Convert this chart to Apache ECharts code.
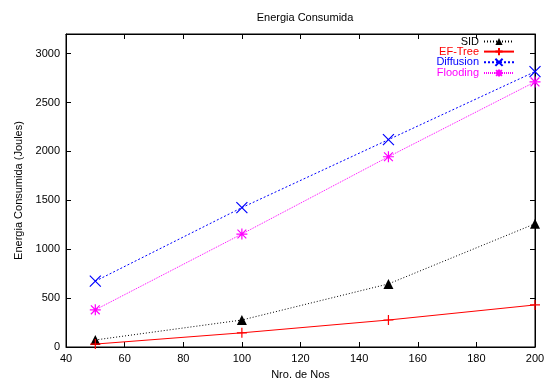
<!DOCTYPE html>
<html>
<head>
<meta charset="utf-8">
<script src="https://cdn.jsdelivr.net/npm/echarts@6/dist/echarts.min.js"></script>
<style>
  html, body { margin: 0; padding: 0; background: #fff; }
  #chart { width: 546px; height: 382px; }
</style>
</head>
<body>
<div id="chart"></div>
<script>
// node counts
var nodes = [50, 100, 150, 200];
// energy (Joules)
var sid = [72, 276, 645, 1260];
var efTree = [30, 145, 276, 430];
var diffusion = [673, 1425, 2120, 2815];
var flooding = [380, 1155, 1945, 2710];

var plusPath = 'path://M5,0L5,10M0,5L10,5';
var crossPath = 'path://M0,0L10,10M10,0L0,10';
var starPath = 'path://M5,0L5,10M0,5L10,5M1,1L9,9M9,1L1,9';

function pairs(ys) {
  return nodes.map(function (x, i) { return [x, ys[i]]; });
}

var font = 'Liberation Sans, Arial, sans-serif';
var myChart = echarts.init(document.getElementById('chart'), null, { renderer: 'canvas' });

var axisCommon = {
  axisLine: { show: true, onZero: false, lineStyle: { color: '#000', width: 1 } },
  axisTick: { show: true, inside: true, length: 5, lineStyle: { color: '#000' } },
  splitLine: { show: false }
};

function mkSeries(name, ys, color, dash, symbol, size, filled) {
  return {
    name: name,
    type: 'line',
    data: pairs(ys),
    symbol: symbol,
    symbolSize: size,
    showSymbol: true,
    lineStyle: { color: color, width: 1, type: dash },
    itemStyle: filled ? { color: color } : { color: 'none', borderColor: color, borderWidth: 1.2 },
    animation: false
  };
}

myChart.setOption({
  backgroundColor: '#fff',
  title: {
    text: 'Energia Consumida',
    left: 300, top: 7, textAlign: 'center',
    textStyle: { fontFamily: font, fontSize: 11, fontWeight: 'normal', color: '#000' }
  },
  grid: {
    left: 66, right: 11, top: 34, bottom: 35, outerBoundsMode: 'none', containLabel: false,
    show: true, borderColor: '#000', borderWidth: 1, backgroundColor: 'transparent'
  },
  legend: {
    orient: 'vertical',
    right: 26, top: 31,
    align: 'right',
    itemWidth: 30, itemHeight: 9, itemGap: -1.5,
    textStyle: { fontFamily: font, fontSize: 11, lineHeight: 10, padding: [0, 0, 0, 0] },
    data: [
      { name: 'SID', textStyle: { color: '#000' } },
      { name: 'EF-Tree', textStyle: { color: '#ff0000' } },
      { name: 'Diffusion', textStyle: { color: '#0000ff' } },
      { name: 'Flooding', textStyle: { color: '#ff00ff' } }
    ]
  },
  xAxis: [
    Object.assign({
      type: 'value', min: 40, max: 200, interval: 20, gridIndex: 0,
      name: 'Nro. de Nos', nameLocation: 'middle', nameGap: 22,
      nameTextStyle: { fontFamily: font, fontSize: 11, color: '#000' },
      axisLabel: { fontFamily: font, fontSize: 11, color: '#000', margin: 6 }
    }, axisCommon),
    Object.assign({
      type: 'value', min: 40, max: 200, interval: 20, position: 'top', gridIndex: 0,
      axisLabel: { show: false }
    }, axisCommon)
  ],
  yAxis: [
    Object.assign({
      type: 'value', min: 0, max: 3200, interval: 500,
      name: 'Energia Consumida (Joules)', nameLocation: 'middle', nameGap: 28,
      nameTextStyle: { fontFamily: font, fontSize: 11, color: '#000' },
      axisLabel: {
        fontFamily: font, fontSize: 11, color: '#000', margin: 6, showMaxLabel: false,
        formatter: function (v) { return String(v); }
      }
    }, axisCommon),
    Object.assign({
      type: 'value', min: 0, max: 3200, interval: 500, position: 'right',
      axisLabel: { show: false }
    }, axisCommon)
  ],
  series: [
    mkSeries('SID', sid, '#000000', [1, 2], 'triangle', 10, true),
    mkSeries('EF-Tree', efTree, '#ff0000', 'solid', plusPath, 10, false),
    mkSeries('Diffusion', diffusion, '#0000ff', [2, 2], crossPath, 11, false),
    mkSeries('Flooding', flooding, '#ff00ff', [1, 1], starPath, 11, false)
  ]
});
</script>
</body>
</html>
